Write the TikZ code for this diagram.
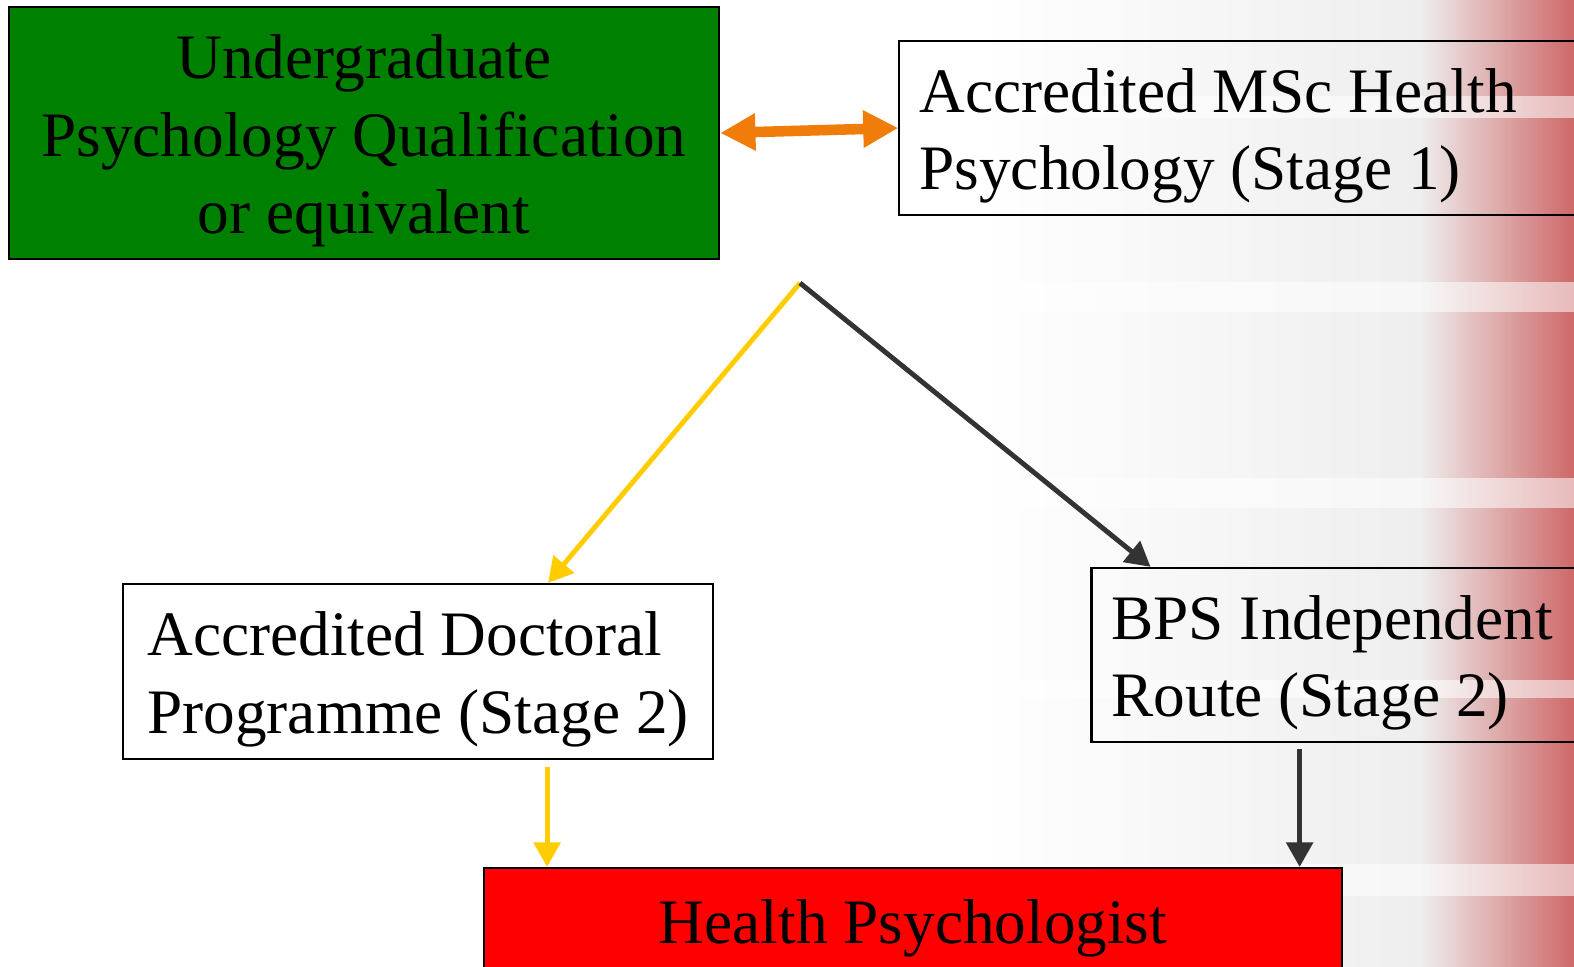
\documentclass[tikz,border=0pt]{standalone}
\usepackage{fontspec}
\setmainfont{Liberation Serif}
\usetikzlibrary{positioning,arrows.meta}

\definecolor{qualgreen}{RGB}{0,128,0}
\definecolor{linkorange}{RGB}{240,125,10}
\definecolor{linkgold}{RGB}{255,204,0}
\definecolor{linkdark}{RGB}{51,51,51}
\definecolor{edgered}{RGB}{206,104,104}
\definecolor{bandgray}{RGB}{238,238,238}

\newcommand{\topstrut}{\rule{0pt}{17pt}}

\tikzset{
  box/.style={draw, line width=0.6pt, font=\fontsize{18}{22}\selectfont},
  qual/.style={box, fill=qualgreen, inner xsep=0.15cm,
    execute at begin node={\spaceskip=0pt\xspaceskip=0pt\centering\topstrut}},
  stagebox/.style={box, inner xsep=0.2cm,
    execute at begin node={\spaceskip=0pt\xspaceskip=0pt\raggedright\topstrut}},
  shortbox/.style={box, inner xsep=0.22cm, align=left},
  goal/.style={box, fill=red, align=center},
  golden/.style={draw=linkgold, line width=1.4pt, -{Triangle[length=7pt,width=7.5pt]}},
  darkline/.style={draw=linkdark, line width=1.4pt, -{Triangle[length=7pt,width=7.5pt]}},
  twoway/.style={draw=linkorange, line width=3pt, {Triangle[length=10pt,width=10pt]}-{Triangle[length=10pt,width=10pt]}},
}

\begin{document}
\begin{tikzpicture}[x=0.01cm, y=-0.01cm]
  % Background
  \useasboundingbox (0,0) rectangle (1574,966);
  \clip (0,0) rectangle (1574,966);
  \shade[left color=white, right color=bandgray] (980,0) rectangle (1420,966);
  \shade[left color=bandgray, right color=edgered] (1420,0) rectangle (1574,966);
  \foreach \ytop/\ybot in {96/118, 282/312, 478/508, 680/698, 864/896}
    \fill[white, opacity=0.55] (1000,\ytop) rectangle (1574,\ybot);

  % Define nodes
  \node[qual, text width=6.8cm, minimum height=2.52cm] (ugrad) at (364,133)
    {Undergraduate\\Psychology Qualification\\or equivalent};
  \node[stagebox, right=1.78cm of ugrad, yshift=0.05cm, text width=7.66cm, minimum height=1.74cm] (msc)
    {Accredited MSc Health\\Psychology (Stage 1)};
  \node[shortbox, minimum width=5.9cm, minimum height=1.75cm] (doc) at (418,671.5)
    {\topstrut Accredited Doctoral\\Programme (Stage 2)};
  \node[stagebox, right=3.76cm of doc, yshift=0.165cm, text width=5.84cm, minimum height=1.74cm] (bps)
    {BPS Independent\\Route (Stage 2)};
  \node[goal, minimum width=8.58cm, minimum height=1.2cm] (hpsych) at (913,928) {Health Psychologist};

  % Connect nodes
  \coordinate (fork) at (800,283);
  \draw[twoway] (ugrad.east) -- (msc.west);
  \draw[golden] (fork) -- ([xshift=1.3cm]doc.north);
  \draw[darkline] (fork) -- ([xshift=-2.53cm]bps.north);
  \coordinate (docout) at ([xshift=1.29cm, yshift=-0.07cm]doc.south);
  \draw[golden] (docout) -- (docout |- hpsych.north);
  \coordinate (bpsout) at ([xshift=-1.04cm, yshift=-0.06cm]bps.south);
  \draw[darkline] (bpsout) -- (bpsout |- hpsych.north);
\end{tikzpicture}
\end{document}
